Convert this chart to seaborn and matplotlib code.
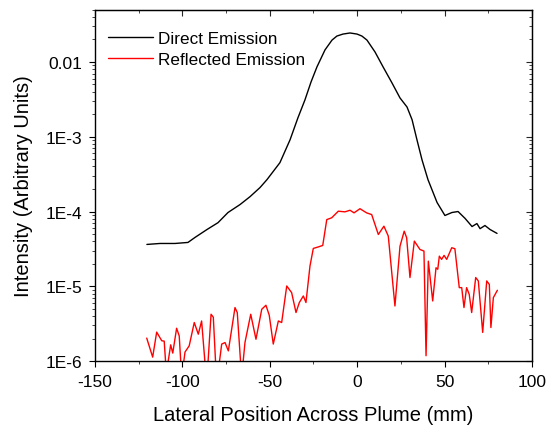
import pandas as pd
import seaborn as sns
import matplotlib.pyplot as plt
from matplotlib.ticker import FixedLocator, MultipleLocator, LogLocator, NullFormatter

# Direct emission (black)
direct_x = [-120.3, -112.8, -104.2, -96.8, -92.8, -85.9, -79.6, -73.9, -67.0, -61.3,
            -55.6, -51.6, -44.2, -38.4, -33.9, -29.9, -26.4, -23.0, -18.4, -14.4,
            -11.6, -8.1, -4.1, -0.1, 2.7, 5.6, 10.2, 14.8, 19.9, 24.5,
            28.5, 31.4, 34.2, 37.1, 40.5, 45.7, 50.2, 54.2, 57.7, 61.7,
            65.7, 68.5, 70.3, 73.1, 76.0, 80.0]
direct_y = [3.63e-5, 3.74e-5, 3.74e-5, 3.86e-5, 4.5e-5, 5.75e-5, 7.1e-5, 9.7e-5, 1.24e-4, 1.58e-4,
            2.09e-4, 2.67e-4, 4.5e-4, 9.1e-4, 1.79e-3, 3.1e-3, 5.4e-3, 8.6e-3, 0.0145, 0.0196,
            0.0222, 0.0236, 0.0244, 0.0236, 0.0222, 0.0196, 0.0136, 8.6e-3, 5.25e-3, 3.3e-3,
            2.5e-3, 1.69e-3, 9.1e-4, 4.9e-4, 2.67e-4, 1.32e-4, 8.85e-5, 9.7e-5, 1.0e-4, 8.1e-5,
            6.3e-5, 6.9e-5, 5.9e-5, 6.5e-5, 5.75e-5, 5.1e-5]

# Reflected emission (red)
reflected_x = [-120.4, -117.0, -114.7, -111.8, -110.4, -109.0, -108.1, -106.7, -105.5, -103.3,
               -101.8, -100.4, -98.5, -96.1, -93.2, -90.9, -89.0, -86.1, -83.6, -82.3,
               -80.4, -77.5, -75.6, -73.7, -69.9, -68.6, -66.1, -64.2, -60.9, -57.9,
               -54.6, -52.2, -50.3, -48.0, -45.1, -43.2, -40.3, -37.5, -35.0, -33.1,
               -30.8, -29.3, -27.0, -25.1, -22.3, -19.7, -17.4, -14.6, -10.8, -7.0,
               -4.1, -1.8, 1.6, 5.4, 8.3, 12.1, 15.3, 17.8, 21.6, 24.5,
               26.9, 28.3, 30.2, 32.7, 35.9, 38.2, 39.4, 40.7, 43.2, 45.1,
               46.1, 47.0, 48.3, 49.7, 51.2, 54.1, 55.9, 58.4, 59.8, 61.1,
               62.6, 64.1, 65.5, 67.8, 69.3, 71.8, 74.1, 75.6, 76.5, 77.9, 80.2]
reflected_y = [2.03e-6, 1.13e-6, 2.44e-6, 1.87e-6, 1.85e-6, 6e-7, 1.0e-6, 1.65e-6, 1.28e-6, 2.75e-6,
               2.17e-6, 6e-7, 1.32e-6, 1.6e-6, 3.28e-6, 2.29e-6, 3.44e-6, 5e-7, 4.23e-6, 3.86e-6,
               5e-7, 1.69e-6, 1.77e-6, 1.37e-6, 5.2e-6, 4.46e-6, 6e-7, 1.77e-6, 4.23e-6, 1.96e-6,
               4.93e-6, 5.58e-6, 4.1e-6, 1.69e-6, 3.44e-6, 3.28e-6, 1.01e-5, 8.24e-6, 4.46e-6, 6.07e-6,
               7.43e-6, 6.07e-6, 1.87e-5, 3.21e-5, 3.36e-5, 3.52e-5, 7.8e-5, 8.24e-5, 1.01e-4, 9.9e-5,
               1.04e-4, 9.6e-5, 1.09e-4, 9.6e-5, 9.1e-5, 4.93e-5, 6.37e-5, 4.69e-5, 5.46e-6, 3.44e-5,
               5.46e-5, 4.46e-5, 1.31e-5, 4.02e-5, 3.11e-5, 2.96e-5, 1.18e-6, 2.17e-5, 6.37e-6, 1.77e-5,
               1.69e-5, 2.53e-5, 2.29e-5, 2.59e-5, 2.29e-5, 3.28e-5, 3.18e-5, 9.6e-6, 9.6e-6, 5.2e-6,
               9.6e-6, 7.8e-6, 4.46e-6, 1.31e-5, 1.18e-5, 2.42e-6, 1.18e-5, 1.06e-5, 2.81e-6, 7.06e-6, 8.85e-6]

y_ticks = [1e-6, 1e-5, 1e-4, 1e-3, 1e-2]
y_labels = ["1E-6", "1E-5", "1E-4", "1E-3", "0.01"]

direct = pd.DataFrame({"x": direct_x, "y": direct_y})
reflected = pd.DataFrame({"x": reflected_x, "y": reflected_y})

sns.set_style("ticks")
plt.rcParams["font.family"] = ["Liberation Sans", "DejaVu Sans"]
plt.rcParams["axes.unicode_minus"] = False
plt.rcParams["text.color"] = "black"
plt.rcParams["axes.labelcolor"] = "black"

fig = plt.figure(figsize=(5.49, 4.27), dpi=100)
ax = fig.add_axes([0.173, 0.152, 0.796, 0.823])

sns.lineplot(data=direct, x="x", y="y", color="black", lw=1.0, ax=ax, label="Direct Emission")
sns.lineplot(data=reflected, x="x", y="y", color="#ff0000", lw=1.0, ax=ax, label="Reflected Emission")

ax.set_yscale("log")
ax.set_xlim(-150, 100)
ax.set_ylim(1e-6, 0.05)
ax.xaxis.set_major_locator(MultipleLocator(50))
ax.xaxis.set_minor_locator(MultipleLocator(25))
ax.yaxis.set_major_locator(FixedLocator(y_ticks))
ax.set_yticklabels(y_labels)
ax.yaxis.set_minor_locator(LogLocator(base=10, subs=range(2, 10)))
ax.yaxis.set_minor_formatter(NullFormatter())

ax.tick_params(which="major", direction="out", length=4, width=0.8, labelsize=12.5,
               colors="black", pad=5)
ax.tick_params(which="minor", direction="out", length=2.5, width=0.6)
for s in ax.spines.values():
    s.set_linewidth(1.0)
    s.set_color("black")

# mirrored ticks on top and right
top = ax.secondary_xaxis("top")
top.xaxis.set_major_locator(MultipleLocator(50))
top.xaxis.set_minor_locator(MultipleLocator(25))
top.tick_params(which="both", direction="in", labeltop=False)
top.tick_params(which="major", length=4)
top.tick_params(which="minor", length=2.5)
right = ax.secondary_yaxis("right")
right.yaxis.set_major_locator(FixedLocator(y_ticks))
right.yaxis.set_minor_locator(LogLocator(base=10, subs=range(2, 10)))
right.tick_params(which="both", direction="in", labelright=False)
right.tick_params(which="major", length=4)
right.tick_params(which="minor", length=2.5)

ax.set_xlabel("Lateral Position Across Plume (mm)", fontsize=14.5, labelpad=12)
ax.set_ylabel("Intensity (Arbitrary Units)", fontsize=14.5, labelpad=9)

ax.legend(loc="upper left", bbox_to_anchor=(0.03, 0.94), frameon=False, fontsize=12.3,
          handlelength=2.6, handletextpad=0.3, borderaxespad=0, borderpad=0, labelspacing=0.35)

fig.savefig("out.png", dpi=100)
